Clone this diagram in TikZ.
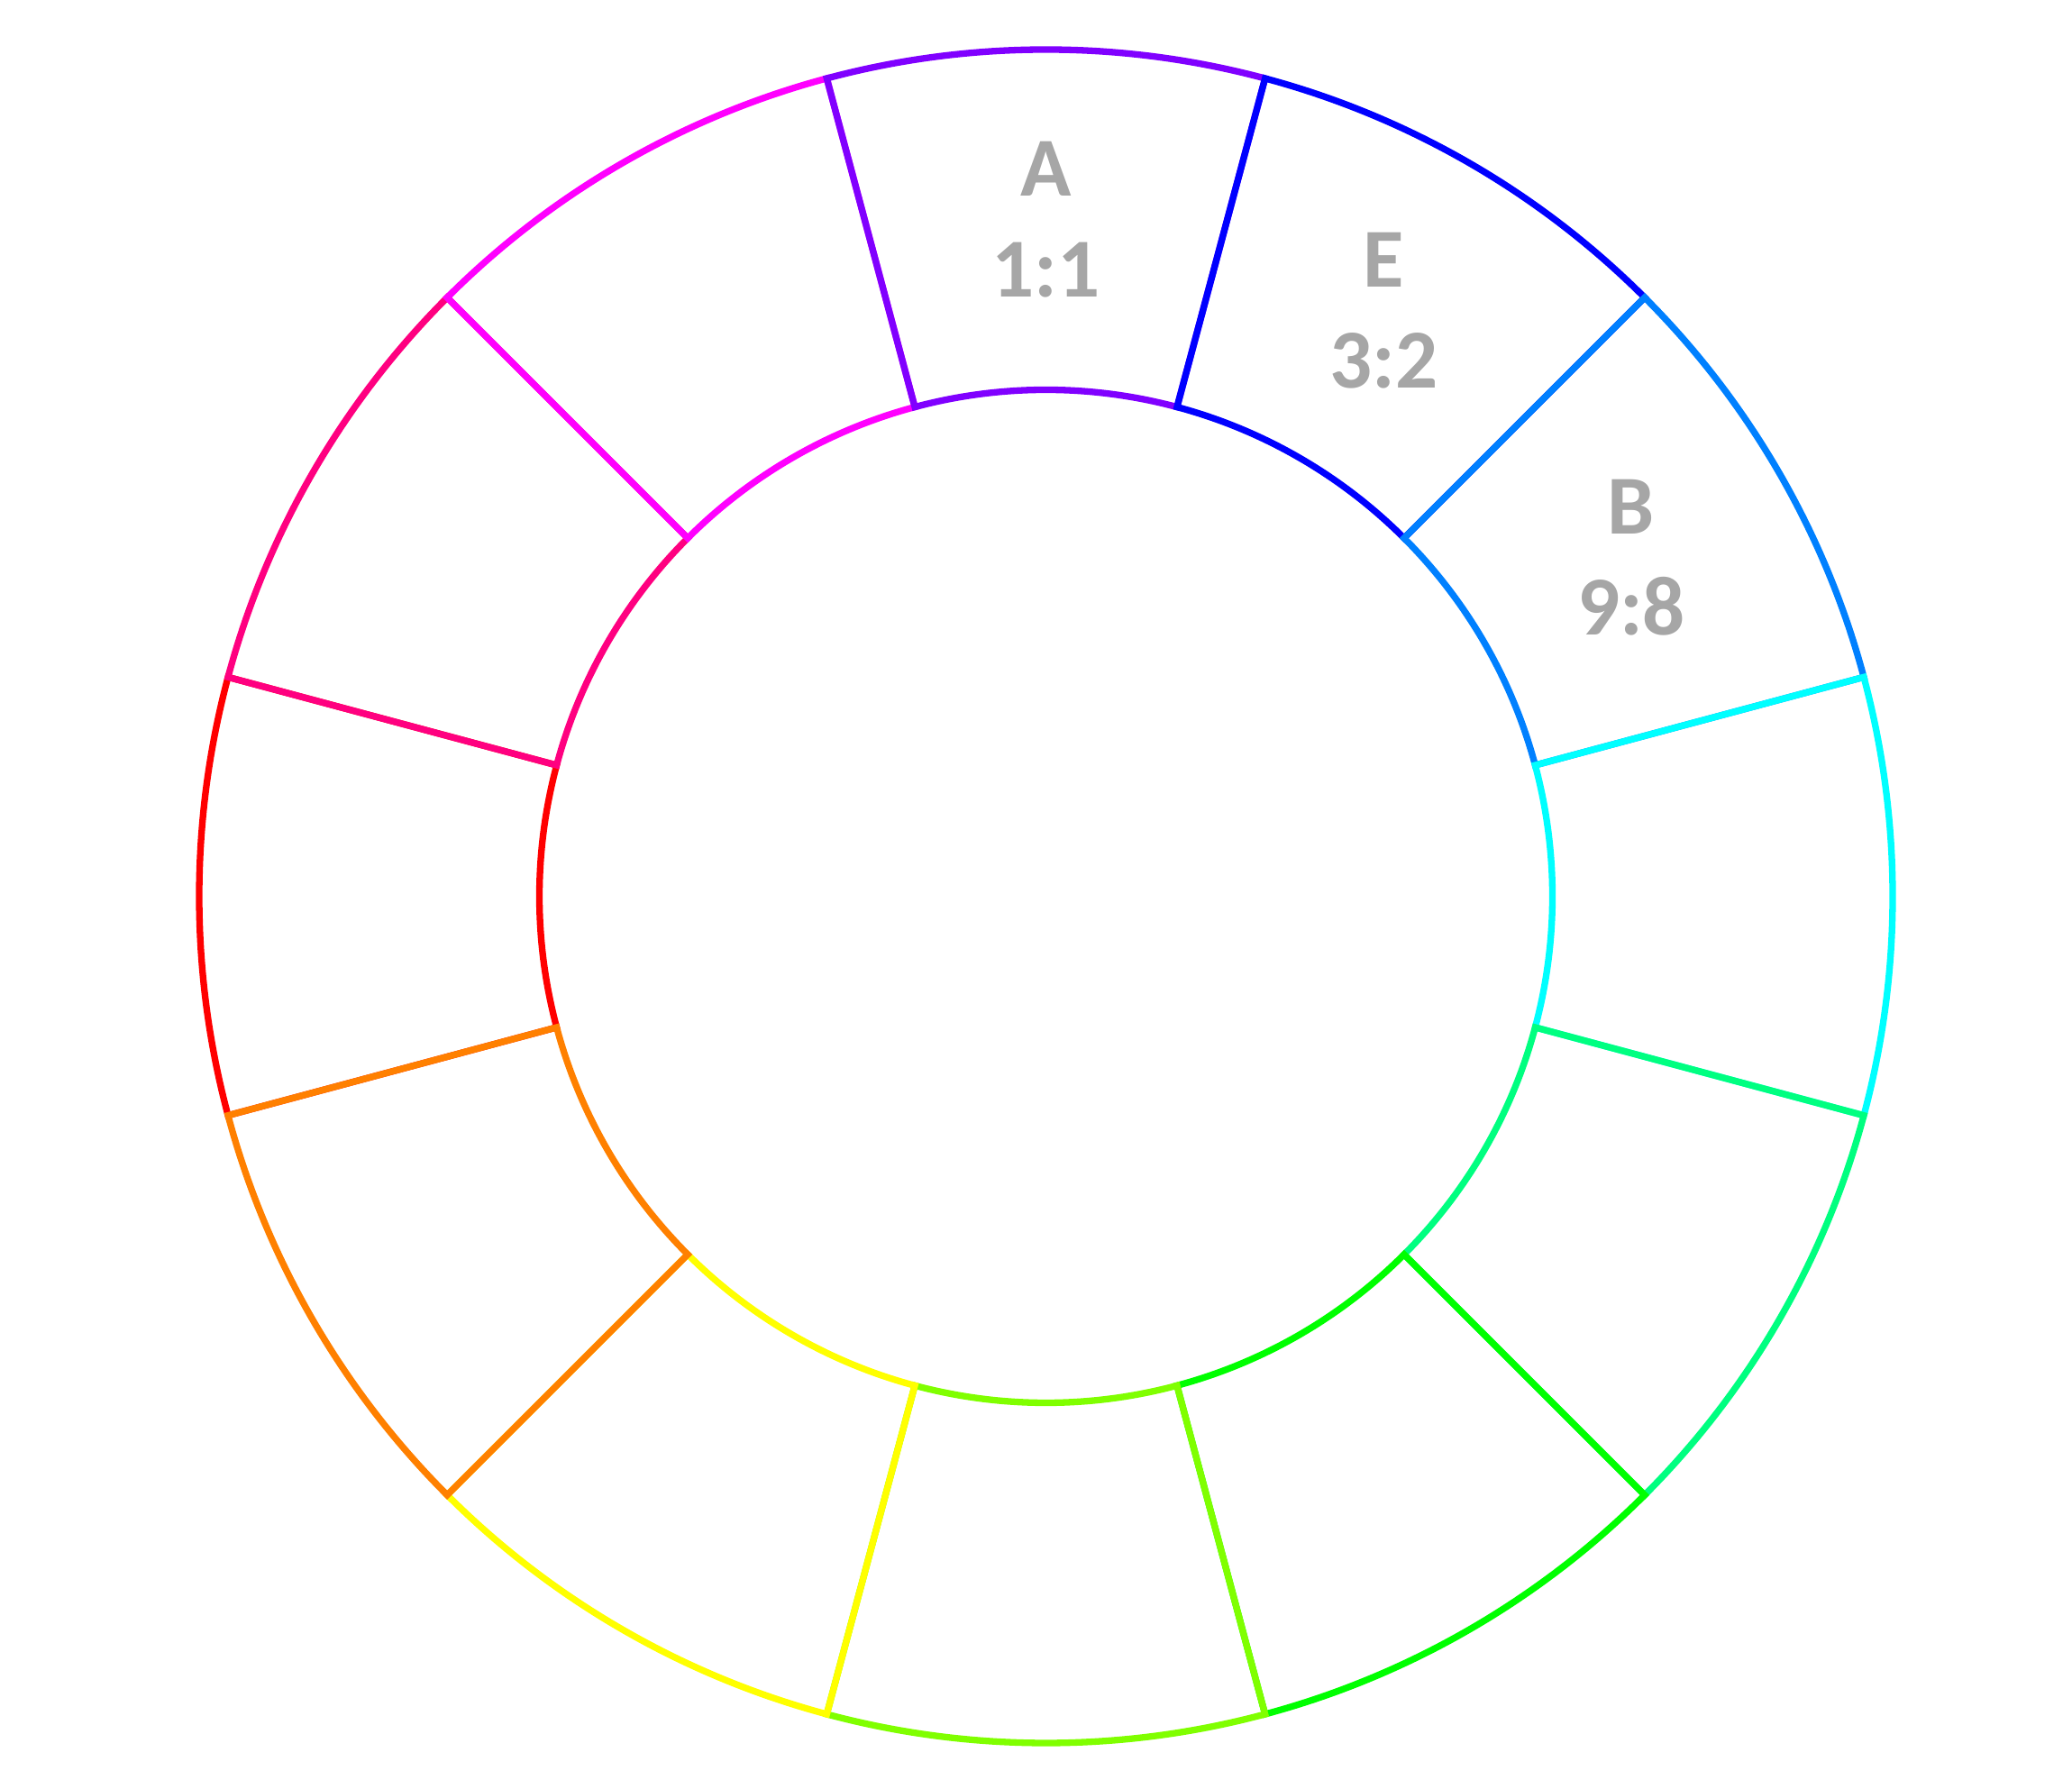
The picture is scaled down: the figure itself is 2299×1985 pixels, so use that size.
\documentclass[tikz,border=0pt]{standalone}
\usepackage{fontspec}
\setmainfont{Carlito}
\definecolor{cred}{HTML}{FF0000}
\definecolor{crose}{HTML}{FF0080}
\definecolor{cmagenta}{HTML}{FF00FF}
\definecolor{cviolet}{HTML}{8000FF}
\definecolor{cblue}{HTML}{0000FF}
\definecolor{cazure}{HTML}{0080FF}
\definecolor{ccyan}{HTML}{00FFFF}
\definecolor{cspring}{HTML}{00FF80}
\definecolor{cgreen}{HTML}{00FF00}
\definecolor{cchart}{HTML}{80FF00}
\definecolor{cyellow}{HTML}{FFFF00}
\definecolor{corange}{HTML}{FF8000}
\definecolor{labelgray}{HTML}{A6A6A6}
\begin{document}
\begin{tikzpicture}[x=1pt,y=1pt,
  seg/.style={line width=7.3pt},
  lbl/.style={text=labelgray, font=\fontsize{93}{112}\selectfont\bfseries, inner sep=0pt, anchor=base}]
\useasboundingbox (0,0) rectangle (2299,1985);
\begin{scope}[shift={(1160.5,990.5)}]
\foreach \a/\c in {180/cred,150/crose,120/cmagenta,90/cviolet,60/cblue,30/cazure,0/ccyan,-30/cspring,-60/cgreen,-90/cchart,-120/cyellow,-150/corange}{
  \draw[seg, draw=\c] ({\a-15}:939.5) arc[start angle={\a-15}, end angle={\a+15}, radius=939.5]
     -- ({\a+15}:562) arc[start angle={\a+15}, end angle={\a-15}, radius=562] -- cycle;
}
\node[lbl] (nA) at (0,776.5) {A};
\node[lbl] (rA) at (0,664.5) {1:1};
\node[lbl] (nE) at (375,676) {E};
\node[lbl] (rE) at (375,564) {3:2};
\node[lbl] (nB) at (649.5,401.5) {B};
\node[lbl] (rB) at (649.5,289.5) {9:8};
\end{scope}
\end{tikzpicture}
\end{document}
